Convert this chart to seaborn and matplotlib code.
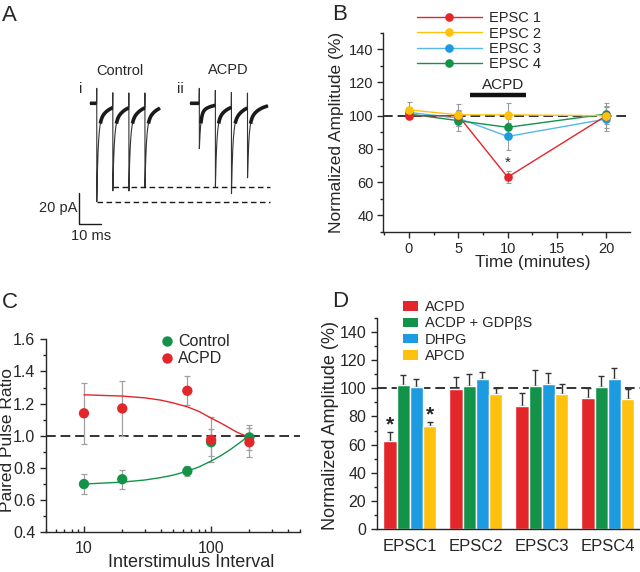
import numpy as np
import pandas as pd
import matplotlib
matplotlib.use("Agg")
import matplotlib.pyplot as plt
from matplotlib.lines import Line2D
from matplotlib.patches import Patch
from matplotlib.ticker import MultipleLocator, FixedLocator, NullFormatter, FormatStrFormatter
import seaborn as sns

# ---------------- data ----------------
# A: evoked EPSC trains (times in ms, amplitudes in pA)
ctrl_window = [40.9, 72.7]
ctrl_stims = [44.0, 51.3, 58.6, 65.9]
ctrl_amps = [62.7, 53.0, 53.0, 51.0]
acpd_window = [86.4, 121.8]
acpd_stims = [90.6, 97.9, 105.2, 112.5]
acpd_amps = [29.7, 53.3, 56.5, 45.7]
dash_end = 122.7

# B: time course of normalized amplitudes
times = [0, 5, 10, 20]
epsc_names = ["EPSC 1", "EPSC 2", "EPSC 3", "EPSC 4"]
epsc_mean = {
    "EPSC 1": [100.0, 100.0, 63.0, 100.0],
    "EPSC 2": [103.5, 100.5, 100.5, 100.0],
    "EPSC 3": [102.0, 98.5, 87.5, 98.0],
    "EPSC 4": [101.0, 97.0, 93.0, 101.0],
}
epsc_err = {
    "EPSC 1": [2.0, 3.0, 3.8, 5.0],
    "EPSC 2": [5.0, 6.5, 7.0, 7.5],
    "EPSC 3": [3.0, 5.0, 8.3, 7.5],
    "EPSC 4": [3.0, 6.0, 5.0, 5.0],
}
acpd_period = [6.2, 11.9]

# C: paired pulse ratio
isi = [10, 20, 65, 100, 200]
ppr_ctrl = [0.70, 0.73, 0.78, 0.96, 0.99]
ppr_ctrl_err = [0.06, 0.06, 0.03, 0.085, 0.08]
ppr_acpd = [1.14, 1.17, 1.28, 0.975, 0.96]
ppr_acpd_err = [0.19, 0.17, 0.09, 0.14, 0.09]
fit_x = [10, 20, 30, 40, 50, 65, 80, 100, 120, 140, 160, 180, 195]
fit_ctrl = [0.700, 0.712, 0.725, 0.740, 0.755, 0.780, 0.806, 0.843, 0.878, 0.912, 0.945, 0.975, 0.997]
fit_acpd = [1.255, 1.247, 1.236, 1.222, 1.205, 1.180, 1.152, 1.110, 1.078, 1.048, 1.022, 1.005, 0.995]

# D: bar summary
groups = ["EPSC1", "EPSC2", "EPSC3", "EPSC4"]
conds = ["ACPD", "ACDP + GDPβS", "DHPG", "APCD"]
bar_mean = {
    "ACPD": [62.6, 99.6, 87.6, 93.2],
    "ACDP + GDPβS": [102.2, 101.7, 101.7, 101.0],
    "DHPG": [101.0, 106.2, 102.7, 106.7],
    "APCD": [73.2, 95.8, 95.6, 92.3],
}
bar_err = {
    "ACPD": [6.6, 8.0, 9.2, 6.7],
    "ACDP + GDPβS": [6.8, 8.5, 10.9, 7.6],
    "DHPG": [5.5, 5.2, 7.8, 7.3],
    "APCD": [3.1, 4.5, 7.3, 7.1],
}

RED, YEL, BLU, GRN = "#e3262a", "#fec20e", "#1d9be0", "#13934a"

sns.set_theme(style="ticks")
plt.rcParams["font.family"] = ["Liberation Sans", "DejaVu Sans"]
plt.rcParams["axes.linewidth"] = 1.0
plt.rcParams["xtick.major.width"] = 1.0
plt.rcParams["ytick.major.width"] = 1.0

fig = plt.figure(figsize=(6.4, 5.72), dpi=100)
W, H = 640.0, 572.0


def px_axes(left, top, right, bottom):
    return fig.add_axes([left / W, 1 - bottom / H, (right - left) / W, (bottom - top) / H])


# ---------------- A ----------------
axA = px_axes(0, 0, 320, 290)
axA.set_xlim(0, 320 / 2.2)
axA.set_ylim((103.3 - 290) / 1.57, 103.3 / 1.57)
axA.axis("off")


def epsc_train(window, stims, amps, dt=0.02):
    t = np.arange(window[0], window[1], dt)
    cur = np.zeros_like(t)
    for s, a in zip(stims, amps):
        k = t >= s
        d = t[k] - s
        cur[k] -= a * (0.78 * np.exp(-d / 0.6) + 0.22 * np.exp(-d / 4.5))
    art = np.zeros_like(t)
    for s in stims:
        art[(t >= s - 0.08) & (t < s)] = 9.5
    return t, cur, art


for win, st, am in [(ctrl_window, ctrl_stims, ctrl_amps), (acpd_window, acpd_stims, acpd_amps)]:
    t, cur, art = epsc_train(win, st, am)
    axA.plot(t, cur + art, color="#333333", lw=0.8)
    thick = np.where((cur > -13) & (art == 0), cur, np.nan)
    axA.plot(t, thick, color="#1a1a1a", lw=2.6, solid_capstyle="butt")

axA.hlines(-ctrl_amps[0], ctrl_stims[0], dash_end, color="#1a1a1a", lw=1, linestyles=(0, (4, 2.5)))
axA.hlines(-ctrl_amps[1], ctrl_stims[1], dash_end, color="#1a1a1a", lw=1, linestyles=(0, (4, 2.5)))
axA.plot([36, 36, 46], [-57, -77, -77], color="#1a1a1a", lw=1)
axA.text(35, -66.5, "20 pA", ha="right", va="center", fontsize=10.5)
axA.text(41.5, -84.5, "10 ms", ha="center", va="center", fontsize=10.5)
axA.text(54.5, 20.6, "Control", ha="center", va="center", fontsize=10.5)
axA.text(103.6, 21.2, "ACPD", ha="center", va="center", fontsize=10.5)
axA.text(36.8, 9, "i", ha="center", va="center", fontsize=10.5)
axA.text(81.8, 9, "ii", ha="center", va="center", fontsize=10.5)

# ---------------- B ----------------
axB = px_axes(383.3, 32.6, 630, 232)
b_colors = {"EPSC 1": RED, "EPSC 2": YEL, "EPSC 3": "#56b8ea", "EPSC 4": GRN}
b_markers = {"EPSC 1": RED, "EPSC 2": YEL, "EPSC 3": BLU, "EPSC 4": GRN}
rows = []
for n in epsc_names:
    for tt, v, e in zip(times, epsc_mean[n], epsc_err[n]):
        rows.append({"time": tt, "amp": v, "err": e, "series": n})
dfB = pd.DataFrame(rows)
axB.axhline(100, color="#333333", lw=1.4, ls=(0, (5, 2.5)), zorder=1.5)
for n in epsc_names:
    d = dfB[dfB.series == n]
    axB.errorbar(d.time, d.amp, yerr=d.err, fmt="none", ecolor="#9a9a9a", elinewidth=0.8,
                 capsize=1.8, capthick=0.8, zorder=1)
for n in ["EPSC 3", "EPSC 4", "EPSC 1", "EPSC 2"]:
    d = dfB[dfB.series == n]
    sns.lineplot(data=d, x="time", y="amp", ax=axB, color=b_colors[n], lw=1.0, zorder=2,
                 legend=False)
    axB.plot(d.time, d.amp, ls="none", marker="o", ms=6.2, mfc=b_markers[n], mec="none", zorder=3)
axB.plot(acpd_period, [112.6, 112.6], color="#111111", lw=3.2, solid_capstyle="butt")
axB.text(9.5, 118.6, "ACPD", ha="center", va="center", fontsize=11)
axB.text(10, 71.5, "*", ha="center", va="center", fontsize=11)
axB.set_xlim(-2.6, 22.4)
axB.set_ylim(30, 150)
axB.xaxis.set_major_locator(FixedLocator([0, 5, 10, 15, 20]))
axB.xaxis.set_minor_locator(MultipleLocator(2.5))
axB.yaxis.set_major_locator(FixedLocator([40, 60, 80, 100, 120, 140]))
axB.yaxis.set_minor_locator(MultipleLocator(10))
axB.tick_params(which="major", length=4, labelsize=10.5, direction="out", pad=3)
axB.tick_params(which="minor", length=2.3, direction="out")
sns.despine(ax=axB)
axB.set_xlabel("Time (minutes)", fontsize=12.5)
axB.set_ylabel("Normalized Amplitude (%)", fontsize=12.5)
axB.xaxis.set_label_coords(0.605, -0.152)
axB.xaxis.label.set_va("center")
axB.yaxis.set_label_coords(-0.19, 0.5)
axB.yaxis.label.set_va("center")
hB = [Line2D([0], [0], color=b_colors[n], lw=1.0, marker="o", ms=6.2, mfc=b_markers[n], mec="none")
      for n in epsc_names]
axB.legend(hB, epsc_names, loc="upper left", bbox_to_anchor=(0.135, 1.108), frameon=False,
           fontsize=10.5, handlelength=4.5, handletextpad=0.45, labelspacing=0.1,
           borderpad=0, borderaxespad=0)

# ---------------- C ----------------
axC = px_axes(45.7, 339.3, 300, 532.3)
dfC = pd.DataFrame({"isi": isi * 2, "ppr": ppr_ctrl + ppr_acpd,
                    "err": ppr_ctrl_err + ppr_acpd_err,
                    "cond": ["Control"] * len(isi) + ["ACPD"] * len(isi)})
axC.axhline(1.0, color="#333333", lw=1.4, ls=(0, (5, 2.5)), zorder=1)
axC.errorbar(dfC.isi, dfC.ppr, yerr=dfC.err, fmt="none", ecolor="#a0a0a0", elinewidth=0.9,
             capsize=2, capthick=0.9, zorder=1.5)
sns.lineplot(x=fit_x, y=fit_acpd, ax=axC, color=RED, lw=1.0, zorder=2)
sns.lineplot(x=fit_x, y=fit_ctrl, ax=axC, color=GRN, lw=1.0, zorder=2)
sns.scatterplot(data=dfC, x="isi", y="ppr", hue="cond", palette={"Control": GRN, "ACPD": RED},
                s=55, edgecolor="none", ax=axC, zorder=3, legend=False)
axC.set_xscale("log")
axC.set_xlim(5, 500)
axC.set_ylim(0.4, 1.6)
axC.xaxis.set_major_locator(FixedLocator([10, 100]))
axC.set_xticklabels(["10", "100"])
axC.xaxis.set_minor_formatter(NullFormatter())
axC.yaxis.set_major_locator(MultipleLocator(0.2))
axC.yaxis.set_minor_locator(MultipleLocator(0.1))
axC.yaxis.set_major_formatter(FormatStrFormatter("%.1f"))
axC.tick_params(axis="y", which="major", length=4, labelsize=11.5, direction="out")
axC.tick_params(axis="y", which="minor", length=2.3, direction="out")
axC.tick_params(axis="x", which="major", length=4, labelsize=11.5, direction="in", pad=6)
axC.tick_params(axis="x", which="minor", length=2.3, direction="in")
sns.despine(ax=axC)
axC.set_xlabel("Interstimulus Interval", fontsize=13)
axC.set_ylabel("Paired Pulse Ratio", fontsize=12.5)
axC.xaxis.set_label_coords(0.574, -0.158)
axC.xaxis.label.set_va("center")
axC.yaxis.set_label_coords(-0.15, 0.478)
axC.yaxis.label.set_va("center")
hC = [Line2D([0], [0], ls="none", marker="o", ms=7.5, mfc=c, mec="none") for c in (GRN, RED)]
axC.legend(hC, ["Control", "ACPD"], loc="upper left", bbox_to_anchor=(0.46, 1.025), frameon=False,
           fontsize=11.5, handlelength=0.6, handletextpad=0.35, labelspacing=0.12,
           borderpad=0, borderaxespad=0)

# ---------------- D ----------------
axD = px_axes(376.7, 317.6, 640.7, 529.3)
rows = []
for c in conds:
    for g, v in zip(groups, bar_mean[c]):
        rows.append({"epsc": g, "cond": c, "amp": v})
dfD = pd.DataFrame(rows)
d_pal = {"ACPD": RED, "ACDP + GDPβS": GRN, "DHPG": BLU, "APCD": YEL}
axD.axhline(100, color="#333333", lw=1.4, ls=(0, (5, 2.5)), zorder=0.5)
sns.barplot(data=dfD, x="epsc", y="amp", hue="cond", order=groups, hue_order=conds,
            palette=d_pal, errorbar=None, width=0.8, edgecolor="white", linewidth=1.0,
            saturation=1, legend=False, ax=axD, zorder=2)
for cont, c in zip(axD.containers, conds):
    xs = [b.get_x() + b.get_width() / 2 for b in cont]
    hs = [b.get_height() for b in cont]
    axD.errorbar(xs, hs, yerr=[np.zeros(len(hs)), bar_err[c]], fmt="none", ecolor="#333333",
                 elinewidth=1.0, capsize=2.5, capthick=1.0, zorder=1.8)
for ci in (0, 3):
    b = axD.containers[ci][0]
    top = b.get_height() + bar_err[conds[ci]][0]
    axD.text(b.get_x() + b.get_width() / 2, top + 4.5, "*", ha="center", va="center",
             fontsize=15, fontweight="bold")
axD.set_xlim(-0.5, 3.5)
axD.set_ylim(0, 150)
axD.yaxis.set_major_locator(FixedLocator([0, 20, 40, 60, 80, 100, 120, 140]))
axD.yaxis.set_minor_locator(MultipleLocator(10))
axD.tick_params(axis="y", which="major", length=4, labelsize=11.5, direction="out")
axD.tick_params(axis="y", which="minor", length=2.3, direction="out")
axD.tick_params(axis="x", length=0, pad=7, labelsize=12)
sns.despine(ax=axD)
axD.set_xlabel("")
axD.set_ylabel("Normalized Amplitude (%)", fontsize=13)
axD.yaxis.set_label_coords(-0.175, 0.489)
axD.yaxis.label.set_va("center")
hD = [Patch(facecolor=d_pal[c], edgecolor="none") for c in conds]
axD.legend(hD, conds, loc="upper left", bbox_to_anchor=(0.1, 1.083), frameon=False,
           fontsize=10.5, handlelength=1.0, handleheight=0.6, handletextpad=0.5,
           labelspacing=0.16, borderpad=0, borderaxespad=0)

# panel letters
for lab, x, y in [("A", 1.7, 20.7), ("B", 331.7, 20.0), ("C", 1.7, 308.3), ("D", 331.7, 306.7)]:
    fig.text(x / W, 1 - y / H, lab, fontsize=16, ha="left", va="baseline")

fig.savefig("out.png", dpi=100)
